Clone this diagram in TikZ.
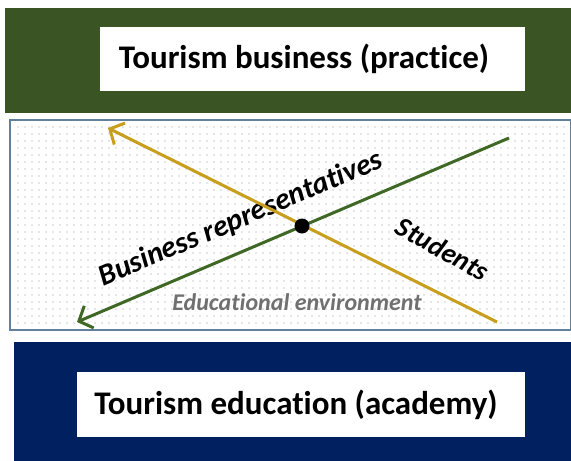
\documentclass[tikz,border=0pt]{standalone}
\usepackage{fontspec}
\setmainfont[Ligatures=NoCommon]{Carlito}
\usetikzlibrary{arrows.meta}
\definecolor{bizgreen}{RGB}{59,84,35}
\definecolor{edunavy}{RGB}{0,32,96}
\definecolor{framegray}{RGB}{96,128,156}
\definecolor{dotgray}{RGB}{140,150,160}
\definecolor{goldline}{RGB}{200,158,28}
\definecolor{greenline}{RGB}{62,104,36}
\definecolor{labelgray}{RGB}{112,112,112}
\tikzset{
  titlebox/.style={fill=white, draw=none},
  titletext/.style={font=\fontsize{33}{38}\selectfont\bfseries, inner sep=0pt},
  axis/.style={line width=3pt, -{Straight Barb[length=11pt,width=24pt,line width=3pt]}},
  axislabel/.style={font=\fontsize{30}{34}\selectfont\bfseries\itshape, inner sep=1pt},
}
\begin{document}
\begin{tikzpicture}[x=1pt,y=-1pt]
\useasboundingbox (0,0) rectangle (571,461);
\fill[white] (0,0) rectangle (571,461);

% practice band
\fill[bizgreen] (5,8) rectangle (571,113);
\node[titlebox, minimum width=425pt, minimum height=64pt] (biz) at (312.5,59) {};
\node[titletext] (bizlabel) at (304,59) {Tourism business (practice)};

% educational environment panel with dotted grid
\fill[white] (10,120) rectangle (571,330);
\foreach \xx in {18,25,...,566} {
  \foreach \yy in {127,134,...,326} {
    \fill[dotgray] (\xx,\yy) circle (0.7);
  }
}
\draw[framegray, line width=1.6pt] (10,120) rectangle (571,330);

% labels inside the panel
\node[axislabel, rotate=23] (reps) at (241,219) {Business representatives};
\node[axislabel, font=\fontsize{28}{32}\selectfont\bfseries\itshape, rotate=-29] (stud) at (443,249) {Students};
\node[font=\fontsize{24}{28}\selectfont\bfseries\itshape, text=labelgray, inner sep=1pt] (env) at (297,302) {Educational environment};

% crossing axes
\coordinate (gS) at (509,138);
\coordinate (gE) at (77,322);
\coordinate (yS) at (497,322);
\coordinate (yE) at (108,128);
\draw[axis, greenline] (gS) -- (gE);
\draw[axis, goldline] (yS) -- (yE);
\fill[black] (302,226) circle (7.5) node (cross) {};

% academy band
\fill[edunavy] (14,342) rectangle (571,461);
\node[titlebox, minimum width=448pt, minimum height=65pt] (edu) at (301,404.5) {};
\node[titletext] (edulabel) at (296,404.5) {Tourism education (academy)};
\end{tikzpicture}
\end{document}
